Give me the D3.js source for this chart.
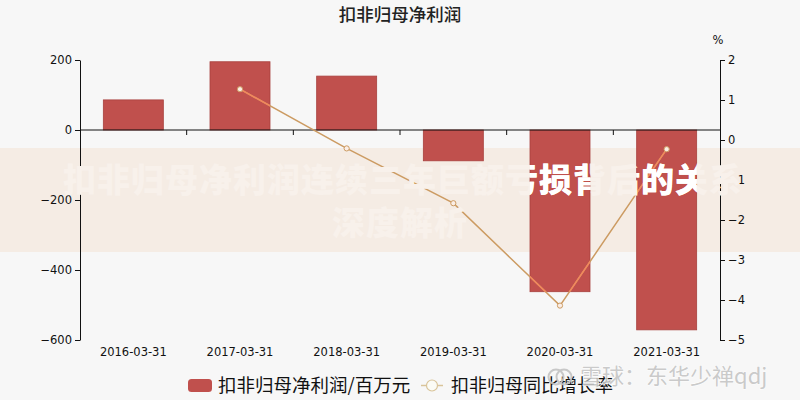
<!DOCTYPE html>
<html><head><meta charset="utf-8">
<script src="https://cdn.jsdelivr.net/npm/d3@7"></script>
<style>
html,body{margin:0;padding:0;background:#f7f7f7;}
svg{display:block;}
</style></head>
<body>
<svg id="chart" width="800" height="400"></svg>
<script>
const categories = ["2016-03-31","2017-03-31","2018-03-31","2019-03-31","2020-03-31","2021-03-31"];
const profitValues = [86, 195, 154, -88, -462, -571];
const growthValues = [null, 1.27, -0.21, -1.58, -4.14, -0.23];
const leftTicks = [-600, -400, -200, 0, 200];
const rightTicks = [-5, -4, -3, -2, -1, 0, 1, 2];
const titleText = "扣非归母净利润";
const seriesNames = ["扣非归母净利润/百万元", "扣非归母同比增长率"];
const unitRight = "%";
const overlayLine1 = "扣非归母净利润连续三年巨额亏损背后的关系";
const overlayLine2 = "深度解析";
const watermarkText = "雪球：东华少禅qdj";

(function () {
const svg = d3.select("#chart");
const W = 800, H = 400;
const pL = 80, pR = 720, pT = 60, pB = 340;

svg.append("rect").attr("width", W).attr("height", H).attr("fill", "#f7f7f7");
// overlay band (behind chart)
svg.append("rect").attr("x", 0).attr("y", 148).attr("width", W).attr("height", 104).attr("fill", "#f5ece4");

const x = d3.scaleBand().domain(categories).range([pL, pR]).padding(0);
const yL = d3.scaleLinear().domain([-600, 200]).range([pB, pT]);
const yR = d3.scaleLinear().domain([-5, 2]).range([pB, pT]);
const barW = x.bandwidth() * 0.5625;
const barX = (d, i) => x(categories[i]) + (x.bandwidth() - barW) / 2;
const barY = d => yL(Math.max(0, d));
const barH = d => Math.abs(yL(d) - yL(0));

// title
svg.append("text").attr("x", 400).attr("y", 21).attr("text-anchor", "middle")
  .attr("font-family", "'Noto Sans CJK SC'").attr("font-weight", 500).attr("font-size", 17.5)
  .attr("fill", "#222").text(titleText);

// bars
svg.append("g").selectAll("rect").data(profitValues).join("rect")
  .attr("x", barX).attr("y", barY).attr("width", barW).attr("height", barH)
  .attr("fill", "#c0504d").attr("stroke", "#a8403e").attr("stroke-width", 0.8);

// clip for overlays on bars
const defs = svg.append("defs");
defs.append("clipPath").attr("id", "barclip")
  .selectAll("rect").data(profitValues).join("rect")
  .attr("x", barX).attr("y", barY).attr("width", barW).attr("height", barH);

// axes
const fontAxis = "'DejaVu Sans'";
const gL = svg.append("g").attr("transform", `translate(${pL},0)`)
  .call(d3.axisLeft(yL).tickValues(leftTicks).tickSize(5).tickSizeOuter(0).tickPadding(3));
const gR = svg.append("g").attr("transform", `translate(${pR},0)`)
  .call(d3.axisRight(yR).tickValues(rightTicks).tickFormat(d3.format("d")).tickSize(5).tickSizeOuter(0).tickPadding(3));
[gL, gR].forEach(g => {
  g.selectAll("text").attr("font-family", fontAxis).attr("font-size", 11.5).attr("fill", "#111");
  g.selectAll("line,path").attr("stroke", "#111");
});

// zero line with category boundary ticks
const gZ = svg.append("g").attr("transform", `translate(0,${yL(0)})`);
gZ.append("line").attr("x1", pL).attr("x2", pR).attr("stroke", "#111");
gZ.selectAll("line.tk").data(categories.slice(1)).join("line").attr("class", "tk")
  .attr("x1", d => x(d)).attr("x2", d => x(d)).attr("y1", 0).attr("y2", 5).attr("stroke", "#111");

// category labels
const gX = svg.append("g").attr("transform", `translate(0,${pB})`)
  .call(d3.axisBottom(x).tickSize(0).tickPadding(8));
gX.select(".domain").remove();
gX.selectAll("text").attr("font-family", fontAxis).attr("font-size", 11.5).attr("fill", "#111");

svg.append("text").attr("x", 718).attr("y", 44).attr("text-anchor", "middle")
  .attr("font-family", fontAxis).attr("font-size", 11.5).attr("fill", "#111").text(unitRight);

// growth line
const pts = growthValues.map((v, i) => ({ v, c: categories[i] })).filter(d => d.v !== null);
const line = d3.line().x(d => x(d.c) + x.bandwidth() / 2).y(d => yR(d.v));
svg.append("path").datum(pts).attr("d", line).attr("fill", "none")
  .attr("stroke", "#cc9b62").attr("stroke-width", 1.5);
svg.append("path").datum(pts).attr("d", line).attr("fill", "none")
  .attr("clip-path", "url(#barclip)")
  .attr("stroke", "#f2875c").attr("stroke-width", 1.5);
svg.append("g").selectAll("circle").data(pts).join("circle")
  .attr("cx", d => x(d.c) + x.bandwidth() / 2).attr("cy", d => yR(d.v)).attr("r", 2.6)
  .attr("fill", "#fbeee6").attr("stroke", "#cc9b62").attr("stroke-width", 1);

// overlay headline text: faint over background, bright white over bars
function headline(g, fill) {
  g.append("text").attr("x", 403).attr("y", 192).attr("text-anchor", "middle")
    .attr("font-family", "'Noto Sans CJK SC'").attr("font-weight", 900).attr("font-size", 33)
    .attr("letter-spacing", 1).attr("fill", fill).text(overlayLine1);
  g.append("text").attr("x", 400).attr("y", 235).attr("text-anchor", "middle")
    .attr("font-family", "'Noto Sans CJK SC'").attr("font-weight", 900).attr("font-size", 33)
    .attr("letter-spacing", 1).attr("fill", fill).text(overlayLine2);
}
headline(svg.append("g"), "#f8f1eb");
headline(svg.append("g").attr("clip-path", "url(#barclip)"), "#ffffff");

// legend
const lg = svg.append("g");
lg.append("rect").attr("x", 188).attr("y", 379).attr("width", 24).attr("height", 13).attr("rx", 3.5)
  .attr("fill", "#c0504d");
lg.append("text").attr("x", 218).attr("y", 392).attr("font-family", "'Noto Sans CJK SC'")
  .attr("font-size", 18.5).attr("fill", "#111").text(seriesNames[0]);
lg.append("line").attr("x1", 421).attr("x2", 443).attr("y1", 385.5).attr("y2", 385.5)
  .attr("stroke", "#d9c49a").attr("stroke-width", 1.5);
lg.append("circle").attr("cx", 432).attr("cy", 385.5).attr("r", 5.5)
  .attr("fill", "#fbfbf5").attr("stroke", "#d9c49a").attr("stroke-width", 1.2);
lg.append("text").attr("x", 451).attr("y", 392).attr("font-family", "'Noto Sans CJK SC'")
  .attr("font-size", 18).attr("fill", "#111").text(seriesNames[1]);

// watermark
const wm = svg.append("g").attr("opacity", 0.9);
wm.append("circle").attr("cx", 556).attr("cy", 377).attr("r", 7.5).attr("fill", "none")
  .attr("stroke", "#c4c4c4").attr("stroke-width", 2);
wm.append("circle").attr("cx", 564).attr("cy", 377).attr("r", 7.5).attr("fill", "none")
  .attr("stroke", "#c4c4c4").attr("stroke-width", 2);
wm.append("text").attr("x", 580).attr("y", 384).attr("font-family", "'Noto Sans CJK SC'")
  .attr("font-size", 22).attr("fill", "#c6c6c6").attr("stroke", "#ffffff").attr("stroke-width", 1.2)
  .attr("paint-order", "stroke").text(watermarkText);
})();
</script>
</body></html>
